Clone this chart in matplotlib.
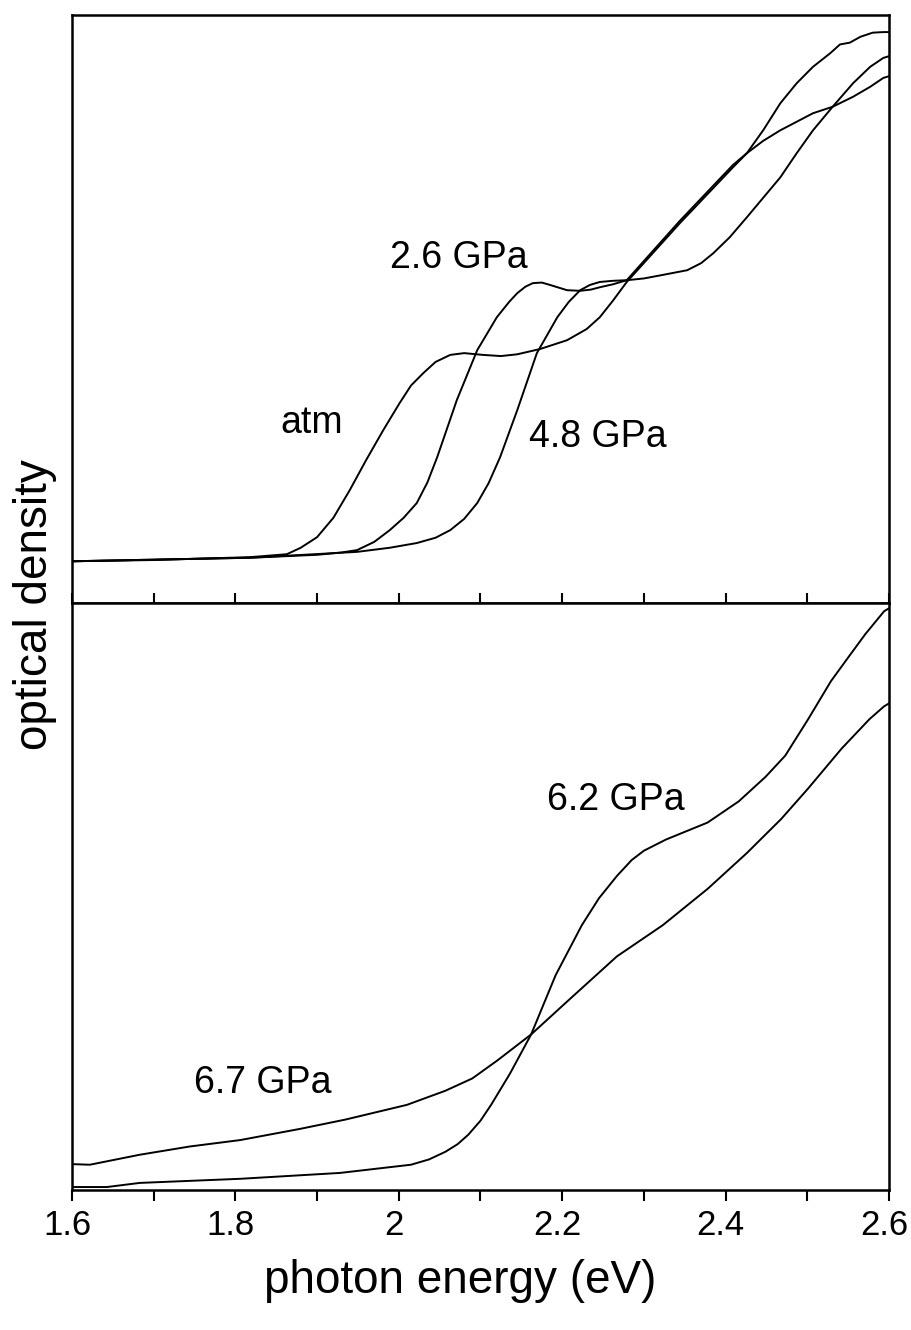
import matplotlib
matplotlib.use('Agg')
import matplotlib.pyplot as plt
import matplotlib.transforms as mtransforms
from matplotlib.ticker import MultipleLocator, NullLocator

plt.rcParams['font.family'] = ['Liberation Sans', 'DejaVu Sans']

# upper panel: absorption edges at low pressure (optical density, arb. units)
e_atm = [1.600, 1.695, 1.818, 1.863, 1.880, 1.900, 1.920, 1.940, 1.960, 1.981, 2.001,
         2.015, 2.030, 2.045, 2.063, 2.080, 2.103, 2.125, 2.145, 2.173, 2.206, 2.230,
         2.246, 2.262, 2.279, 2.344, 2.409, 2.426, 2.446, 2.467, 2.507, 2.531, 2.556,
         2.577, 2.593, 2.600]
od_atm = [0.071, 0.073, 0.078, 0.083, 0.094, 0.112, 0.145, 0.192, 0.243, 0.294, 0.340,
          0.370, 0.391, 0.410, 0.422, 0.425, 0.422, 0.420, 0.423, 0.432, 0.447, 0.466,
          0.486, 0.514, 0.546, 0.646, 0.741, 0.765, 0.786, 0.804, 0.833, 0.844, 0.861,
          0.878, 0.893, 0.896]

e_26 = [1.600, 1.818, 1.900, 1.930, 1.949, 1.970, 1.989, 2.006, 2.022, 2.035, 2.047,
        2.071, 2.096, 2.120, 2.135, 2.145, 2.155, 2.164, 2.175, 2.185, 2.206, 2.222,
        2.235, 2.246, 2.262, 2.279, 2.344, 2.409, 2.426, 2.446, 2.467, 2.487, 2.507,
        2.528, 2.540, 2.552, 2.565, 2.580, 2.593, 2.600]
od_26 = [0.071, 0.077, 0.082, 0.086, 0.090, 0.104, 0.124, 0.145, 0.170, 0.205, 0.248,
         0.345, 0.430, 0.486, 0.512, 0.527, 0.538, 0.544, 0.545, 0.541, 0.532, 0.531,
         0.533, 0.537, 0.542, 0.549, 0.650, 0.745, 0.765, 0.804, 0.850, 0.884, 0.912,
         0.935, 0.950, 0.953, 0.963, 0.970, 0.971, 0.971]

e_48 = [1.600, 1.818, 1.949, 1.989, 2.022, 2.045, 2.063, 2.080, 2.096, 2.110, 2.124,
        2.145, 2.169, 2.194, 2.208, 2.222, 2.234, 2.246, 2.262, 2.279, 2.300, 2.323,
        2.353, 2.370, 2.385, 2.405, 2.426, 2.467, 2.487, 2.507, 2.531, 2.556, 2.577,
        2.593, 2.600]
od_48 = [0.071, 0.077, 0.087, 0.094, 0.102, 0.111, 0.124, 0.143, 0.170, 0.204, 0.248,
         0.328, 0.425, 0.486, 0.512, 0.532, 0.541, 0.546, 0.548, 0.549, 0.552, 0.558,
         0.566, 0.578, 0.595, 0.622, 0.656, 0.724, 0.765, 0.804, 0.844, 0.884, 0.912,
         0.927, 0.930]

# lower panel: high pressure spectra
e_62 = [1.600, 1.643, 1.683, 1.806, 1.928, 2.015, 2.037, 2.057, 2.072, 2.085, 2.100,
        2.113, 2.136, 2.162, 2.192, 2.224, 2.245, 2.267, 2.285, 2.300, 2.327, 2.378,
        2.416, 2.449, 2.473, 2.501, 2.529, 2.552, 2.571, 2.594, 2.600]
od_62 = [0.005, 0.005, 0.012, 0.019, 0.029, 0.043, 0.052, 0.065, 0.078, 0.094, 0.118,
         0.145, 0.198, 0.265, 0.366, 0.451, 0.497, 0.535, 0.562, 0.578, 0.597, 0.626,
         0.662, 0.704, 0.740, 0.802, 0.867, 0.911, 0.947, 0.986, 0.991]

e_67 = [1.600, 1.622, 1.683, 1.744, 1.806, 1.879, 1.935, 2.010, 2.057, 2.090, 2.121,
        2.162, 2.206, 2.267, 2.323, 2.378, 2.426, 2.468, 2.501, 2.542, 2.576, 2.594, 2.600]
od_67 = [0.044, 0.043, 0.060, 0.074, 0.085, 0.104, 0.120, 0.145, 0.169, 0.190, 0.221,
         0.265, 0.321, 0.398, 0.451, 0.513, 0.574, 0.632, 0.684, 0.752, 0.802, 0.824, 0.829]

x_minor = [1.6, 1.7, 1.8, 1.9, 2.0, 2.1, 2.2, 2.3, 2.4, 2.5, 2.6]
x_tick_labels = ['1.6', '', '1.8', '', '2', '', '2.2', '', '2.4', '', '2.6']

fig = plt.figure(figsize=(9.12, 13.30), dpi=100)
ax1 = fig.add_axes([0.0789, 0.5466, 0.8959, 0.4421])
ax2 = fig.add_axes([0.0789, 0.1053, 0.8959, 0.4413])

lw = 1.4
for e, od in [(e_atm, od_atm), (e_26, od_26), (e_48, od_48)]:
    ax1.plot(e, od, color='black', lw=lw, solid_joinstyle='round')
for e, od in [(e_62, od_62), (e_67, od_67)]:
    ax2.plot(e, od, color='black', lw=lw, solid_joinstyle='round')

for ax in (ax1, ax2):
    ax.set_xlim(1.6, 2.6)
    ax.set_ylim(0, 1)
    ax.yaxis.set_major_locator(NullLocator())
    for s in ax.spines.values():
        s.set_linewidth(1.8)

ax1.xaxis.set_major_locator(MultipleLocator(0.1))
ax1.tick_params(axis='x', direction='in', length=7.5, width=1.5, labelbottom=False)

ax2.set_xticks(x_minor)
ax2.set_xticklabels(x_tick_labels)
ax2.tick_params(axis='x', direction='out', length=8, width=1.5, labelsize=25, pad=6)
shift = mtransforms.ScaledTranslation(-5 / 100, 0, fig.dpi_scale_trans)
for lab in ax2.get_xticklabels():
    lab.set_transform(lab.get_transform() + shift)

txt = dict(fontsize=27, ha='center', va='center')
ax1.text(2.074, 0.587, '2.6 GPa', **txt)
ax1.text(1.893, 0.306, 'atm', **txt)
ax1.text(2.243, 0.282, '4.8 GPa', **txt)
ax2.text(2.266, 0.665, '6.2 GPa', **txt)
ax2.text(1.833, 0.183, '6.7 GPa', **txt)

ax2.set_xlabel('photon energy (eV)', fontsize=33, labelpad=12)
ax2.xaxis.label.set_x(0.475)
fig.text(0.038, 1 - 605 / 1330, 'optical density', rotation=90,
         fontsize=33, ha='center', va='center')

fig.savefig('out.png', dpi=100)
